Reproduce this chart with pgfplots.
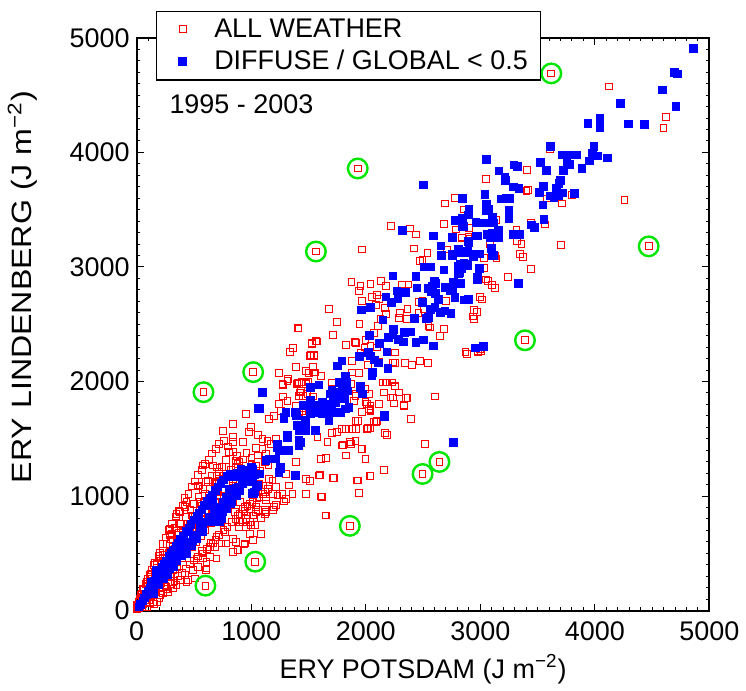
\documentclass[border=0pt]{standalone}
\usepackage{fontspec}
\setmainfont{Liberation Sans}
\usepackage{graphicx}
\usepackage{pgfplots}
\usepackage{pgfplotstable}
\pgfplotsset{compat=1.18}

\definecolor{allred}{RGB}{255,0,0}
\definecolor{clearblue}{RGB}{0,0,255}
\definecolor{ringgreen}{RGB}{0,230,0}

% all weather (red open squares)
\pgfplotstableread{
x y
4122 4576
4618 4311
4600 4213
3611 4033
3409 3844
3050 3771
3417 3673
3403 3664
2780 3600
3803 3629
3580 3597
3713 3554
4258 3588
2858 3501
2789 3327
2902 3338
3142 3408
3441 3382
3568 3371
3316 3324
3322 3223
3359 3199
3702 3191
3345 3112
3374 3090
3098 3104
3142 3075
3032 2991
3446 2982
3243 2915
2838 3258
2896 3264
2690 3554
3102 2841
3048 2890
2996 2735
2944 2626
2933 2568
2871 2260
2980 2269
3000 2284
2223 3356
2389 3336
2438 3283
2684 3376
1968 3153
2423 3162
2539 3124
2708 3153
2838 3254
2905 3249
3084 3196
3128 3095
2476 3052
2496 3060
1875 2872
1954 2834
1939 2790
2041 2854
2133 2877
2177 2834
2316 2848
2374 2848
2099 2752
2113 2723
2055 2741
1968 2703
1678 2636
1751 2523
1945 2500
2090 2668
2166 2645
2177 2587
2302 2601
2287 2558
2365 2630
2461 2694
2496 2703
2505 2630
2461 2601
2360 2543
2128 2543
2104 2485
2070 2427
1413 2463
1713 2407
1904 2346
1997 2363
1829 2317
1916 2334
1988 2297
2041 2311
2099 2297
1533 2334
1577 2349
1519 2230
1548 2224
1954 2253
1881 2180
2017 2146
2113 2172
2252 2160
2345 2160
2258 2253
2235 2166
2403 2143
2476 2180
2542 2160
2699 2703
2548 2485
2563 2471
2650 2398
2684 2456
2881 2239
2983 2253
3006 2268
2948 2549
2968 2607
3012 2717
3064 2877
3128 2819
3032 3081
1542 2128
1557 2079
1475 2093
1606 2050
1417 1992
1475 1992
1707 1992
1881 2079
1939 2073
2151 1992
2186 1992
2258 1963
2287 1905
2157 1905
2032 1890
1997 1818
1896 1832
1910 1890
2215 1861
2244 1809
2351 1853
2606 1870
2026 1760
1968 1731
2113 1803
2331 1783
1417 1731
1461 1765
1273 1977
1316 2006
1404 1986
1476 1977
1433 1919
1418 1876
1491 1890
1316 1832
1244 1803
1389 1789
1447 1745
1258 1745
1200 1702
1157 1673
954 1716
838 1629
751 1571
998 1600
983 1557
1056 1534
1099 1499
1143 1484
1215 1499
1172 1455
1099 1412
1128 1368
1056 1354
925 1470
838 1470
838 1513
809 1383
867 1310
780 1252
664 1267
577 1267
722 1209
751 1180
838 1151
693 1122
606 1122
635 1064
548 1093
1070 1107
1157 1151
1215 1078
1273 1020
1331 1093
1360 1020
1476 1151
1592 1180
1722 1157
1926 1136
2042 1174
1476 1020
1621 991
1287 953
1215 924
1128 991
925 889
968 831
1041 860
1085 808
925 774
998 745
896 731
1650 831
1766 1934
1868 1977
1911 1876
1998 1934
2013 1803
2042 1745
2071 1644
1911 1658
1824 1586
1882 1586
2013 1586
1751 1557
1665 1470
1578 1513
1607 1325
1650 1331
1795 1441
1868 1455
1911 1484
1969 1412
1824 1354
1998 1325
2177 1992
2229 1992
2258 1957
2156 1905
2235 1861
2365 1856
2606 1870
2336 1795
2041 1789
2041 1754
2090 1649
2397 1673
2041 1591
2171 1551
2185 1536
2519 1452
2162 1228
2041 1173
1406 2465
1531 2331
1565 2355
1368 2291
1336 2259
1510 2224
1545 2230
1392 2128
1536 2128
1241 2073
1319 2021
1276 1971
1397 1980
1441 1995
1507 2073
1551 2079
1493 1998
1276 1870
1429 1905
1450 1876
1536 1870
1612 996
1649 831
1716 1159
1600 1185
1513 1130
1931 1136
2035 1173
1939 1025
1800 1449
1861 1470
1963 1412
1916 1586
2020 1592
2099 1652
1931 1652
1794 1586
1707 1551
1200 904
1128 860
1084 671
942 578
838 512
881 526
606 352
1186 1136
1151 1266
1389 1295
1307 1194
1229 1005
1302 976
533 1083
537 1092
624 1135
696 1106
711 1034
595 1020
551 947
566 918
435 947
421 904
377 860
348 846
290 715
305 672
377 759
479 831
508 788
537 744
406 686
363 657
319 614
232 483
203 454
174 411
116 309
87 251
58 193
44 150
29 106
15 77
73 135
87 92
0 48
44 34
116 63
174 77
232 150
276 164
319 193
348 222
377 266
450 266
421 309
493 352
537 382
522 454
580 454
638 469
696 454
580 498
638 556
682 556
609 367
696 643
769 686
783 585
841 628
870 599
885 527
943 585
1015 614
1088 672
986 672
957 730
986 773
1015 831
1059 875
899 773
856 860
885 831
899 947
943 904
986 933
1044 904
1117 875
1189 875
1117 846
1073 991
1117 1034
1102 1092
1160 1092
1189 1020
1131 962
1030 744
957 802
667 585
435 251
508 280
609 425
740 585
261 208
203 135
145 77
87 34
725 773
580 802
464 759
334 541
247 367
290 512
0 10
12 25
25 18
8 40
35 45
20 60
50 30
45 75
60 55
30 95
70 90
55 120
85 70
90 115
40 140
75 150
105 95
110 140
65 180
95 175
130 120
125 165
100 210
140 190
80 230
115 250
150 230
160 160
170 210
135 280
185 250
120 320
200 300
160 330
210 240
230 280
180 370
250 330
150 400
240 390
270 360
210 430
290 300
300 400
260 450
320 350
190 480
230 520
340 420
280 500
310 470
360 480
330 540
260 580
380 520
300 620
400 460
420 560
350 600
290 660
440 500
370 680
460 600
410 640
330 720
480 550
500 650
450 700
390 760
520 600
540 700
480 760
430 820
560 650
580 760
510 820
470 880
600 700
620 820
550 880
500 930
650 760
660 880
590 940
540 990
700 820
720 940
630 1000
580 1060
750 880
760 1000
680 1060
620 1120
800 950
810 1060
720 1130
660 1180
850 1000
870 1120
780 1170
700 1250
900 1060
920 1150
820 1230
950 1120
980 1200
880 1280
1000 1180
1040 1260
930 1320
1080 1220
1120 1300
150 60
200 110
230 150
262 188
300 232
331 258
362 302
398 331
433 368
468 402
503 438
538 472
572 517
611 541
648 592
689 618
722 663
758 702
793 728
828 772
862 797
897 843
942 868
968 912
1012 948
1048 983
1102 1018
1148 1062
102 278
131 352
158 418
203 508
228 583
252 638
282 703
308 757
342 822
368 873
402 918
418 982
452 1018
478 1083
512 1128
538 1183
572 1228
598 1282
632 1318
658 1372
692 1408
718 1452
762 1478
798 1432
842 1388
878 1352
782 1318
742 1252
702 1178
862 1248
898 1302
958 1378
1002 1332
1042 1418
252 218
352 382
452 558
522 718
602 852
682 948
762 1058
842 1128
922 1192
1002 1278
3620 4690
1930 3860
1565 3135
4470 3180
3390 2360
583 1907
1017 2082
2496 1193
2643 1298
1861 740
1035 427
600 218
}\allweather

% diffuse / global < 0.5 (blue filled squares)
\pgfplotstableread{
x y
4861 4906
4693 4697
4722 4686
4591 4544
4707 4399
4223 4428
4046 4297
4046 4218
3942 4253
4296 4250
4435 4242
3615 4053
3994 4053
3977 3996
4026 3969
3713 3977
3759 3977
3803 3977
3838 3977
3757 3917
3777 3896
4113 3951
3951 3925
3887 3859
3528 3911
3580 3844
3728 3841
3702 3757
3687 3728
3664 3687
3716 3647
3823 3643
3615 3621
3643 3606
3684 3621
3519 3650
3554 3704
3548 3542
3557 3414
3446 3368
3472 3343
3293 3891
3324 3876
3165 3838
3215 3786
3220 3757
3055 3937
3290 3698
3339 3687
3041 3635
3180 3592
3229 3600
3261 3600
3055 3548
3070 3505
3055 3491
2902 3501
2896 3455
2844 3597
2780 3411
2844 3425
3249 3495
3252 3423
3104 3432
3113 3385
3157 3324
2963 3388
3017 3385
2852 3351
3070 3286
3093 3258
3157 3258
3287 3286
3345 3286
2968 3269
2757 3255
2896 3223
2809 3156
2887 3127
2968 3112
2939 3092
3098 3164
3104 3098
2757 3101
2824 3025
2890 3011
2838 2982
2809 2938
2991 2991
2977 2909
3331 2855
2504 3714
2322 3321
2589 3269
2759 3255
2846 3351
2780 3400
2963 3391
3026 3385
3107 3385
2977 3269
3061 3284
3084 3255
3104 3298
2902 3212
2838 3127
2887 3133
2939 3101
2997 3115
3098 3159
3116 3101
2658 3185
2663 3098
2759 3107
2510 2999
2571 2999
2684 2973
2809 3008
2817 2950
2858 3031
2890 3022
2991 2988
2974 2892
2832 2857
2768 2868
2238 2921
2437 2915
2600 2877
2615 2854
2583 2834
2548 2811
2571 2782
2611 2770
2446 2816
2693 2819
2736 2790
2759 2805
2780 2732
2861 2712
2896 2718
2635 2718
2496 2689
2563 2630
2606 2645
2650 2601
2693 2616
2745 2592
2548 2557
2528 2549
2426 2549
2274 2790
2345 2776
2281 2724
2177 2738
2223 2689
2041 2645
1963 2624
2150 2537
2244 2456
2238 2413
2200 2384
2287 2369
2339 2427
2389 2433
2330 2346
2437 2341
2504 2363
2591 2311
2035 2404
2119 2334
2186 2259
2026 2253
2041 2224
2078 2189
2113 2160
2194 2114
2061 2079
2055 2050
1945 2218
1794 2180
1751 2137
2960 2291
3026 2306
1823 2044
1837 1992
1794 1962
1809 1919
1765 1905
1707 1927
1693 1890
1716 1847
1591 1971
1519 1948
1954 1962
1968 1890
1794 1847
1852 1774
1707 1789
1620 1823
1577 1789
1533 1760
1461 1789
1519 1716
1650 1736
1765 1725
2165 1701
2165 1696
2768 1469
1516 1951
1099 1905
1064 1766
1302 1731
1287 1678
1395 1702
1476 1658
1519 1832
1592 1969
1519 1948
1540 1789
1548 1731
1621 1789
1664 1803
1737 1818
1650 1716
1708 1731
1780 1725
1679 1658
1818 1847
1838 1919
1766 1992
1824 1992
1954 1948
1969 1890
1403 1615
1418 1571
1476 1586
1563 1571
1316 1528
1229 1455
1244 1397
1331 1397
1418 1441
1418 1484
1157 1325
1128 1310
1215 1325
1258 1252
1244 1208
1389 1179
1012 1238
968 1223
1055 1194
998 1136
1041 1078
1012 1020
925 1151
867 1064
838 1020
780 991
824 933
766 919
664 933
635 925
693 861
722 774
606 774
577 745
751 861
1070 1766
1287 1687
1389 1731
1455 1789
1519 1833
1620 1716
1678 1789
1765 1731
1823 1760
1852 1774
1417 1615
1476 1571
1316 1513
1432 1470
1229 1426
1316 1397
1128 1310
1258 1237
1389 1180
954 1223
1012 1165
1070 1194
1026 1020
635 933
809 976
751 874
693 816
577 715
490 613
432 512
345 454
258 366
171 279
127 192
130 193
174 279
217 352
261 410
304 454
348 497
406 555
449 599
507 657
551 715
594 773
638 816
681 860
725 903
754 947
797 990
841 1034
884 1077
928 1106
986 1121
1029 1034
1058 1092
652 932
623 918
783 889
739 802
478 570
435 497
348 439
319 381
232 279
188 222
145 149
275 309
391 483
522 628
580 686
667 773
710 831
826 947
870 1005
899 1048
812 1063
174 352
130 251
290 367
20 30
35 55
55 85
70 110
85 140
100 165
115 195
135 220
150 260
170 290
190 310
205 345
225 380
240 400
260 430
285 470
300 500
320 530
345 560
365 590
385 620
410 650
430 690
455 720
475 750
500 790
525 820
545 850
570 880
590 920
615 950
640 980
660 1010
690 1050
710 1080
735 1110
760 1140
790 1170
820 1190
850 1170
880 1200
910 1230
940 1180
970 1210
1000 1250
1030 1190
}\cleardays

% circled outliers
\pgfplotstableread{
x y
3620 4690
1930 3860
1565 3135
4470 3180
3390 2360
583 1907
1017 2082
2496 1193
2643 1298
1861 740
1035 427
600 218
}\outliers

\begin{document}
\begin{tikzpicture}
\begin{axis}[name=ax,
  scale only axis, width=287pt, height=287pt,
  xmin=0, xmax=5000, ymin=0, ymax=5000,
  xtick={0,1000,...,5000}, ytick={0,1000,...,5000},
  minor x tick num=9, minor y tick num=9,
  tick align=inside,
  major tick length=3.5pt, minor tick length=1.8pt,
  tick style={black, line width=0.5pt},
  axis line style={line width=1pt},
  font=\fontsize{13.5}{16}\selectfont,
  /pgf/number format/assume math mode=true,
  /pgf/number format/1000 sep={},
  xticklabel style={yshift=-2pt},
  xlabel={ERY POTSDAM (J m\textsuperscript{−2})},
  ylabel={\scalebox{1.15}[1]{ERY LINDENBERG (J m\textsuperscript{−2})}},
  ylabel style={at={(axis description cs:-0.199,0.565)}, anchor=center,
    font=\fontsize{14}{16}\selectfont},
  legend cell align=left,
  legend style={at={(0.033,1.047)}, anchor=north west, draw=black,
    line width=0.6pt, inner xsep=4.5pt, inner ysep=1.5pt,
    font=\fontsize{13.5}{16}\selectfont, row sep=1.2pt},
  legend image code/.code={\path (0pt,0pt) (22pt,0pt);
    \draw[#1] plot coordinates {(8.5pt,0pt)};},
]
\addplot[only marks, mark=square, mark size=1.7pt, color=allred,
  mark options={line width=0.5pt, draw=allred}] table[x=x,y=y] {\allweather};
\addlegendentry{ALL WEATHER}
\addplot[only marks, mark=square*, mark size=1.9pt, color=clearblue,
  mark options={line width=0pt, draw=clearblue, fill=clearblue}] table[x=x,y=y] {\cleardays};
\addlegendentry{DIFFUSE / GLOBAL < 0.5}
\addplot[only marks, mark=o, mark size=4.9pt, color=ringgreen,
  mark options={line width=1.2pt, draw=ringgreen}, forget plot] table[x=x,y=y] {\outliers};
\node[anchor=west] at (rel axis cs:0.045,0.885) {1995 - 2003};
\end{axis}
\path ([xshift=-68.5pt,yshift=-37.5pt]ax.south west)
  rectangle ([xshift=17.5pt,yshift=19pt]ax.north east);
\end{tikzpicture}
\end{document}
